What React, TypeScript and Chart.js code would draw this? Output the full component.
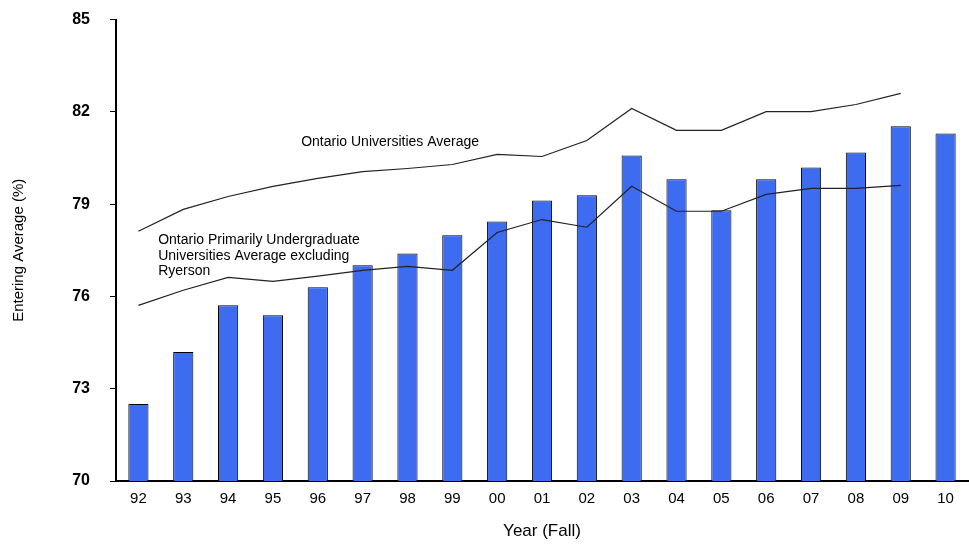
import React, { useEffect, useRef } from "react";
import { Chart, registerables } from "chart.js";
Chart.register(...registerables);

const years = ["92","93","94","95","96","97","98","99","00","01","02","03","04","05","06","07","08","09","10"];
const ryerson = [72.5,74.19,75.71,75.39,76.3,77.01,77.4,77.99,78.44,79.12,79.29,80.58,79.81,78.8,79.81,80.19,80.68,81.53,81.3];
const ontarioAvg = [78.12,78.83,79.25,79.58,79.84,80.06,80.16,80.29,80.62,80.55,81.07,82.11,81.4,81.4,82.01,82.01,82.24,82.6,null];
const undergradAvg = [75.71,76.2,76.62,76.49,76.66,76.85,76.98,76.85,78.08,78.5,78.25,79.58,78.77,78.77,79.32,79.51,79.51,79.61,null];
const yTicks = [70,73,76,79,82,85];

const notes = [
  { text: "Ontario Universities Average", xi: 3.63, y: 81.0 },
  { text: "Ontario Primarily Undergraduate", xi: 0.44, y: 77.82 },
  { text: "Universities Average excluding", xi: 0.44, y: 77.32 },
  { text: "Ryerson", xi: 0.44, y: 76.82 },
];

const notePlugin = {
  id: "notes",
  afterDatasetsDraw(chart: any) {
    const { ctx, scales } = chart;
    const x0 = scales.x.getPixelForValue(0);
    const x1 = scales.x.getPixelForValue(1);
    ctx.save();
    ctx.font = "14px 'Liberation Sans', Arial, sans-serif";
    ctx.fillStyle = "#000";
    ctx.textBaseline = "middle";
    for (const n of notes) {
      ctx.fillText(n.text, x0 + (x1 - x0) * n.xi, scales.y.getPixelForValue(n.y));
    }
    ctx.restore();
  },
};

export default function App() {
  const ref = useRef<HTMLCanvasElement>(null);
  useEffect(() => {
    const font = "'Liberation Sans', Arial, sans-serif";
    const chart = new Chart(ref.current!, {
      type: "bar",
      data: {
        labels: years,
        datasets: [
          { type: "line", data: ontarioAvg, borderColor: "#222", borderWidth: 1.2, pointRadius: 0, fill: false } as any,
          { type: "line", data: undergradAvg, borderColor: "#222", borderWidth: 1.2, pointRadius: 0, fill: false } as any,
          { type: "bar", data: ryerson, backgroundColor: "#3d6cf0", borderColor: "#000", borderWidth: 1, borderSkipped: false, barPercentage: 0.45, categoryPercentage: 1 } as any,
        ],
      },
      options: {
        animation: false,
        responsive: false,
        layout: { padding: { top: 0, right: 1, left: 6, bottom: 0 } },
        plugins: { legend: { display: false }, tooltip: { enabled: false } },
        scales: {
          x: {
            grid: { display: false, drawTicks: false },
            border: { color: "#000", width: 2 },
            ticks: { color: "#000", font: { family: font, size: 15 }, padding: 9, maxRotation: 0 },
            title: { display: true, text: "Year (Fall)", color: "#000", font: { family: font, size: 17 }, padding: { top: 6 } },
            afterFit: (s: any) => { s.height = 65; },
          },
          y: {
            min: 70, max: 85,
            afterBuildTicks: (s: any) => { s.ticks = yTicks.map((v) => ({ value: v })); },
            grid: { drawOnChartArea: false, drawTicks: true, tickLength: 6, color: "#000" },
            border: { color: "#000", width: 2 },
            ticks: { color: "#000", font: { family: font, size: 16, weight: "bold" }, padding: 20 },
            title: { display: true, text: "Entering Average (%)", color: "#000", font: { family: font, size: 15 } },
            afterFit: (s: any) => { s.width = 110; },
          },
        },
      },
      plugins: [notePlugin],
    });
    return () => chart.destroy();
  }, []);
  return (
    <div style={{ position: "absolute", left: 0, top: 0, width: 969, height: 546, background: "#fff", overflow: "hidden" }}>
      <canvas ref={ref} width={969} height={556} style={{ display: "block", marginTop: -10 }} />
    </div>
  );
}
